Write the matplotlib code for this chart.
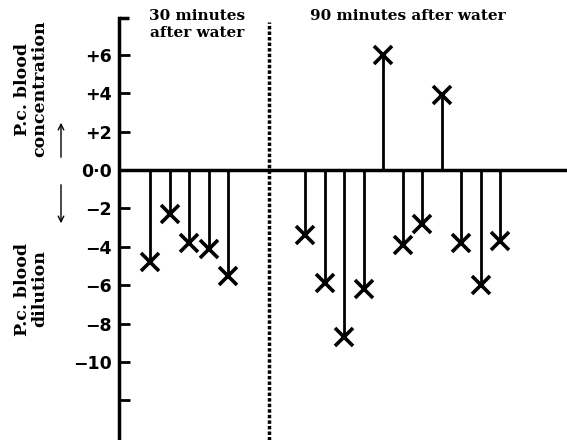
import matplotlib.pyplot as plt

# p.c. change in blood concentration
after_30 = [-4.8, -2.3, -3.8, -4.1, -5.5]
after_90 = [-3.4, -5.9, -8.7, -6.2, 6.0, -3.9, -2.8, 3.9, -3.8, -6.0, -3.7]
tick_vals = [6, 4, 2, 0, -2, -4, -6, -8, -10, -12]
tick_text = ["+6", "+4", "+2", "0\u00b70", "\u22122", "\u22124", "\u22126", "\u22128", "\u221210", ""]

W, H = 567, 440
fig = plt.figure(figsize=(W / 100, H / 100), dpi=100)
ax = fig.add_axes([119 / W, 0, 448 / W, 422 / H])
ymax, ymin = 7.92, -14.06
ax.set_ylim(ymin, ymax)
ax.set_xlim(0, 448 / 19.5)

x30 = [1.6 + i for i in range(len(after_30))]
x90 = [9.55 + i for i in range(len(after_90))]

for xs, vals in [(x30, after_30), (x90, after_90)]:
    ax.vlines(xs, 0, vals, colors='black', lw=2)
    ax.plot(xs, vals, 'x', color='black', ms=13, mew=2.6)

ax.axhline(0, color='black', lw=2.5)
ax.plot([0, 0.5], [ymax, ymax], color='black', lw=2.5, clip_on=False, solid_capstyle='butt')
ax.axvline(7.7, ymax=(7.7 - ymin) / (ymax - ymin), color='black', lw=2.5, ls=(0, (1, 0.6)))

for s in ['top', 'right', 'bottom']:
    ax.spines[s].set_visible(False)
ax.spines['left'].set_linewidth(2.5)
ax.set_xticks([])
ax.set_yticks(tick_vals)
ax.set_yticklabels(tick_text, family='DejaVu Sans', weight='bold', fontsize=12.5)
ax.tick_params(axis='y', direction='in', length=8, width=2, pad=5)

serif = dict(family='DejaVu Serif', weight='bold', color='black')
fig.text(197 / W, 1 - 9 / H, "30 minutes\nafter water", ha='center', va='top',
         fontsize=11, linespacing=1.3, **serif)
fig.text(408 / W, 1 - 9 / H, "90 minutes after water", ha='center', va='top',
         fontsize=11, **serif)
fig.text(31 / W, 1 - 89 / H, "P.c. blood\nconcentration", ha='center', va='center',
         rotation=90, fontsize=12.5, linespacing=1.05, **serif)
fig.text(31 / W, 1 - 289 / H, "P.c. blood\ndilution", ha='center', va='center',
         rotation=90, fontsize=12.5, linespacing=1.05, **serif)

arrow = dict(arrowstyle='->', lw=1, color='black')
ax.annotate("", xy=(61 / W, 1 - 120 / H), xytext=(61 / W, 1 - 160 / H),
            xycoords='figure fraction', textcoords='figure fraction', arrowprops=arrow)
ax.annotate("", xy=(61 / W, 1 - 226 / H), xytext=(61 / W, 1 - 182 / H),
            xycoords='figure fraction', textcoords='figure fraction', arrowprops=arrow)

fig.savefig("out.png", dpi=100)
